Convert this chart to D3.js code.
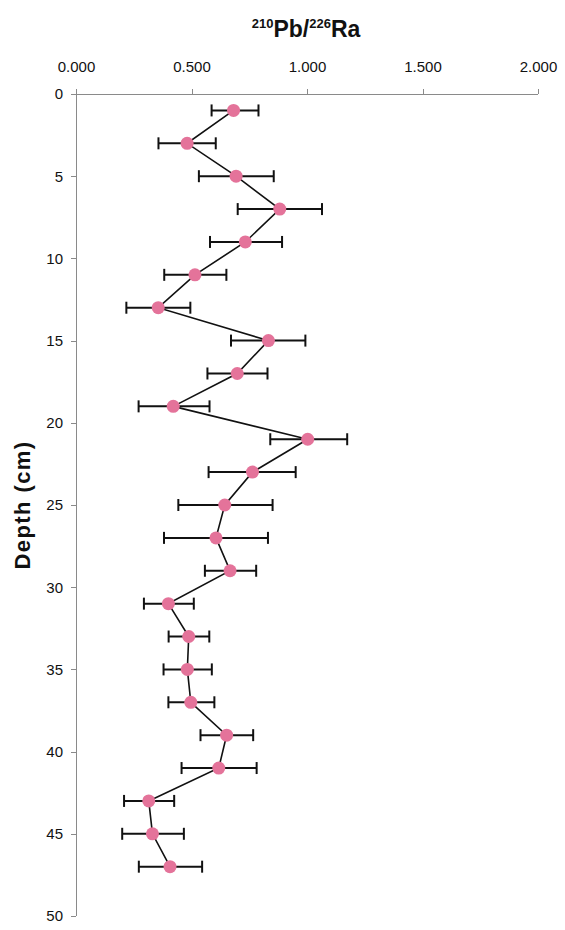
<!DOCTYPE html>
<html>
<head>
<meta charset="utf-8" />
<style>
    body { margin: 0; background: #fff; }
    .axis path, .axis line { stroke: #8a8a8a; shape-rendering: crispEdges; }
    .axis text { font-family: "Liberation Sans", Arial, sans-serif; font-size: 15px; fill: #111; }
    .title { font-family: "Liberation Sans", Arial, sans-serif; font-weight: bold; fill: #111; }
</style>
<script src="https://d3js.org/d3.v7.min.js"></script>
</head>
<body>
<script>
// depth (cm) of each sample
let depths = [1, 3, 5, 7, 9, 11, 13, 15, 17, 19, 21, 23, 25, 27, 29, 31, 33, 35, 37, 39, 41, 43, 45, 47];
// 210Pb/226Ra ratio
let ratios = [0.682, 0.481, 0.693, 0.882, 0.733, 0.515, 0.356, 0.833, 0.698, 0.421, 1.003, 0.764,
              0.644, 0.606, 0.667, 0.400, 0.488, 0.482, 0.497, 0.652, 0.618, 0.315, 0.331, 0.407];
// error bar ends
let errLow = [0.587, 0.357, 0.532, 0.700, 0.580, 0.382, 0.218, 0.671, 0.569, 0.271, 0.841, 0.574,
              0.443, 0.381, 0.558, 0.294, 0.401, 0.379, 0.400, 0.539, 0.457, 0.208, 0.200, 0.272];
let errHigh = [0.790, 0.605, 0.856, 1.065, 0.892, 0.651, 0.495, 0.993, 0.829, 0.578, 1.174, 0.951,
               0.851, 0.831, 0.780, 0.510, 0.577, 0.588, 0.599, 0.767, 0.782, 0.425, 0.467, 0.546];
let xTicks = [0, 0.5, 1.0, 1.5, 2.0];
let yTicks = [0, 5, 10, 15, 20, 25, 30, 35, 40, 45, 50];

let W = 565, H = 930;
let margin = { top: 94, left: 76, right: 27, bottom: 14 };

let data = depths.map((d, i) => ({ depth: d, v: ratios[i], lo: errLow[i], hi: errHigh[i] }));

let svg = d3.select("body").append("svg")
    .attr("width", W)
    .attr("height", H);

let xScale = d3.scaleLinear().domain([0, 2]).range([margin.left, W - margin.right]);
let yScale = d3.scaleLinear().domain([0, 50]).range([margin.top, H - margin.bottom]);

// axes
let xAxis = d3.axisTop(xScale).tickValues(xTicks).tickSize(5).tickFormat(d3.format(".3f"));
let yAxis = d3.axisLeft(yScale).tickValues(yTicks).tickSize(5);

svg.append("g")
    .attr("class", "axis")
    .attr("transform", "translate(0," + margin.top + ")")
    .call(xAxis)
    .call(g => g.select(".domain").attr("d", "M" + margin.left + ",0H" + (W - margin.right)))
    .call(g => g.selectAll("text").attr("y", -22).attr("dy", 0));

svg.append("g")
    .attr("class", "axis")
    .attr("transform", "translate(" + margin.left + ",0)")
    .call(yAxis)
    .call(g => g.select(".domain").attr("d", "M0," + margin.top + "V" + (H - margin.bottom)))
    .call(g => g.selectAll("text").attr("x", -13));

// title
let title = svg.append("text")
    .attr("class", "title")
    .attr("x", 306)
    .attr("y", 37)
    .attr("text-anchor", "middle")
    .style("font-size", "23px");
title.append("tspan").text("210").style("font-size", "13px").attr("dy", "-9");
title.append("tspan").text("Pb/").attr("dy", "9");
title.append("tspan").text("226").style("font-size", "13px").attr("dy", "-9");
title.append("tspan").text("Ra").attr("dy", "9");

svg.append("text")
    .attr("class", "title")
    .attr("transform", "translate(30,505) rotate(-90)")
    .attr("text-anchor", "middle")
    .style("font-size", "22px")
    .style("letter-spacing", "1.4px")
    .text("Depth (cm)");

// error bars
let eb = svg.append("g").attr("stroke", "#111").attr("stroke-width", 2);
eb.selectAll("line.bar")
    .data(data)
    .enter()
    .append("line")
    .attr("class", "bar")
    .attr("x1", d => xScale(d.lo))
    .attr("x2", d => xScale(d.hi))
    .attr("y1", d => yScale(d.depth))
    .attr("y2", d => yScale(d.depth));
eb.selectAll("line.capl")
    .data(data)
    .enter()
    .append("line")
    .attr("class", "capl")
    .attr("x1", d => xScale(d.lo))
    .attr("x2", d => xScale(d.lo))
    .attr("y1", d => yScale(d.depth) - 6)
    .attr("y2", d => yScale(d.depth) + 6);
eb.selectAll("line.caph")
    .data(data)
    .enter()
    .append("line")
    .attr("class", "caph")
    .attr("x1", d => xScale(d.hi))
    .attr("x2", d => xScale(d.hi))
    .attr("y1", d => yScale(d.depth) - 6)
    .attr("y2", d => yScale(d.depth) + 6);

// connecting line
let line = d3.line()
    .x(d => xScale(d.v))
    .y(d => yScale(d.depth));

svg.append("path")
    .datum(data)
    .attr("d", line)
    .attr("fill", "none")
    .attr("stroke", "#111")
    .attr("stroke-width", 1.6);

// markers
svg.selectAll("circle")
    .data(data)
    .enter()
    .append("circle")
    .attr("cx", d => xScale(d.v))
    .attr("cy", d => yScale(d.depth))
    .attr("r", 6.5)
    .attr("fill", "#e4739a");
</script>
</body>
</html>
